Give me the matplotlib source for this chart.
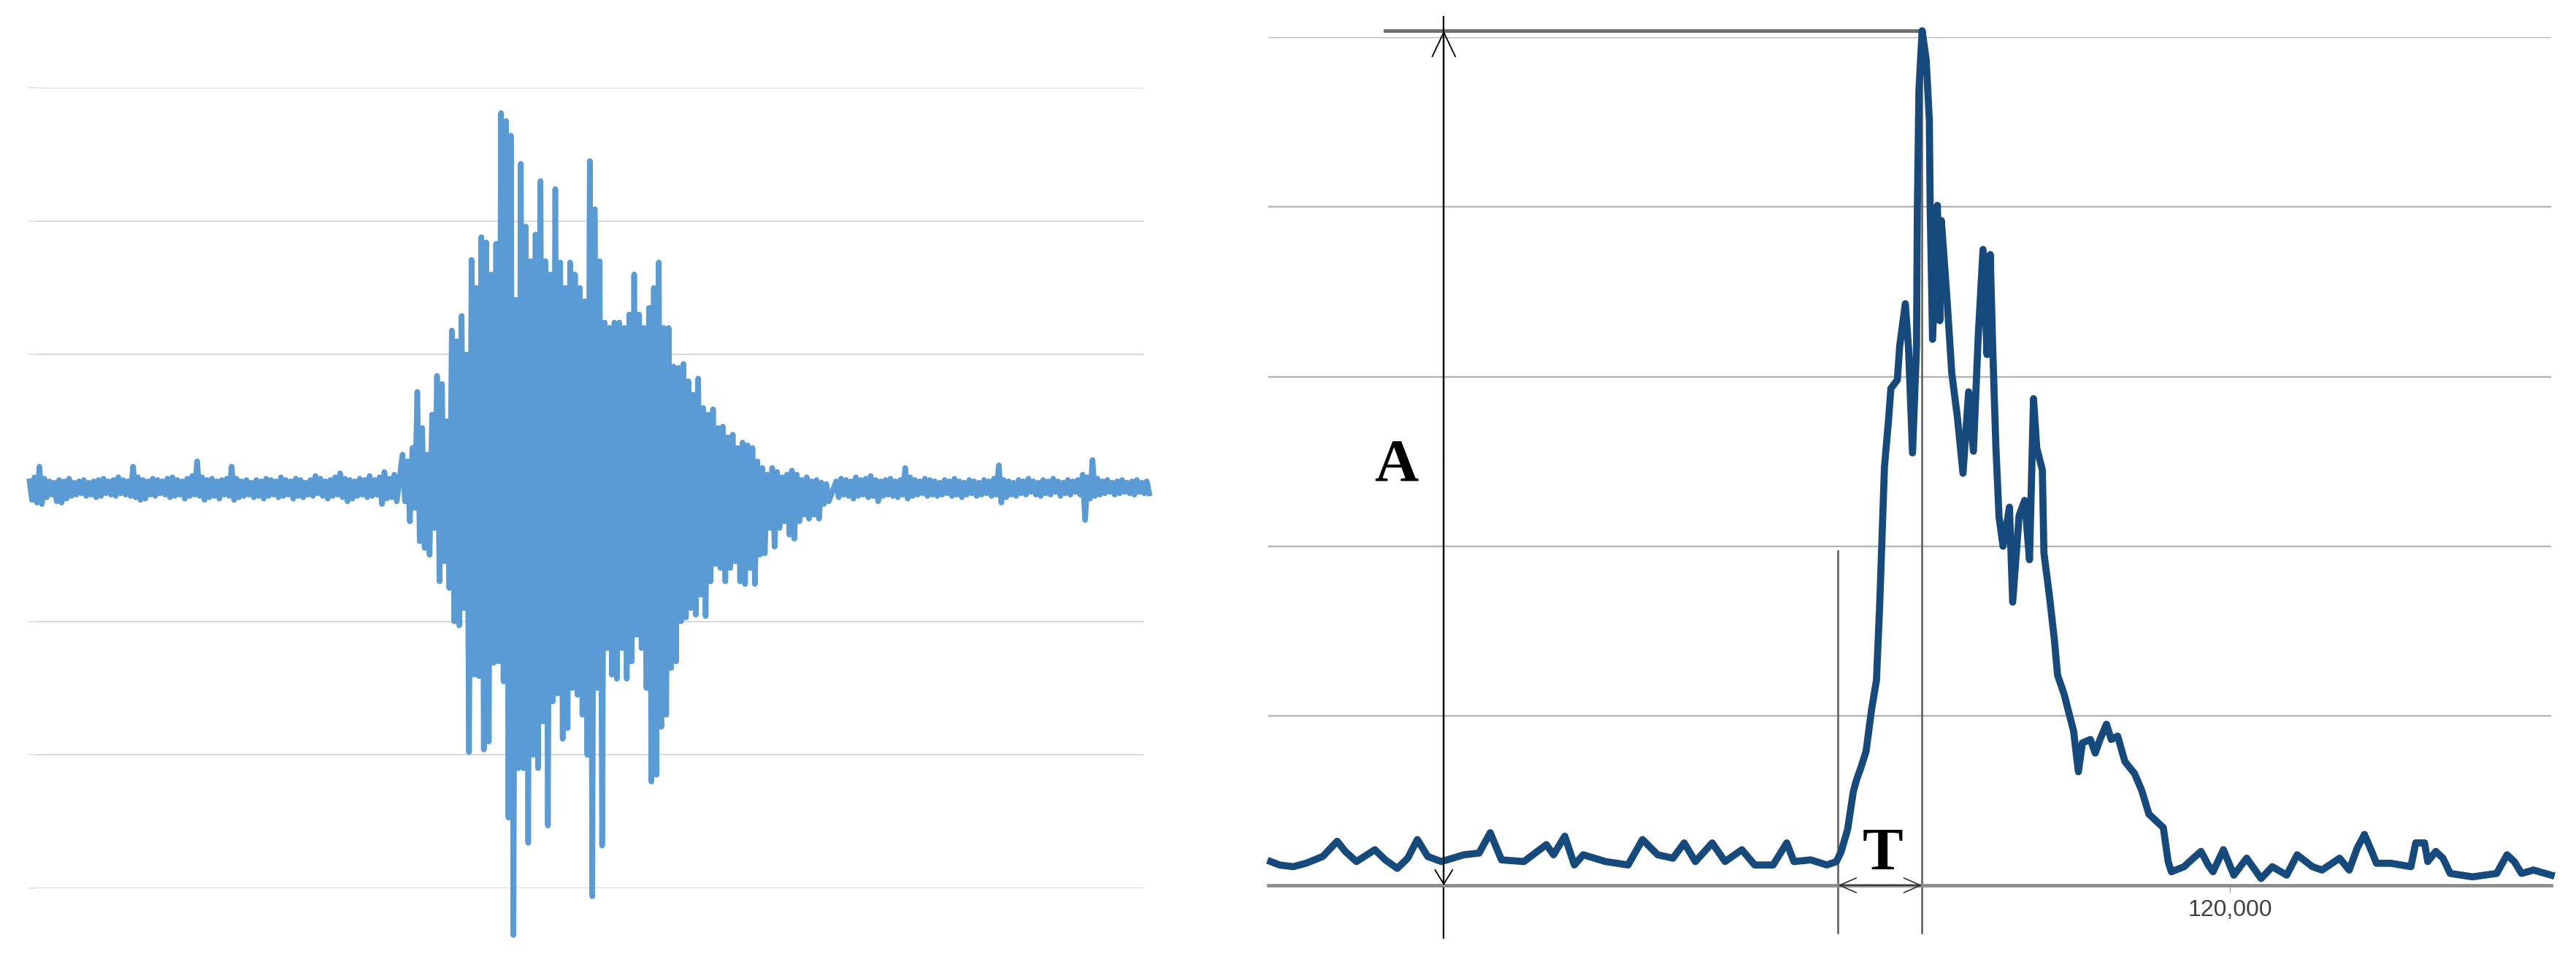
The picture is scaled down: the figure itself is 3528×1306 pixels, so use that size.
import numpy as np
import matplotlib.pyplot as plt

plt.rcParams["font.family"] = ["Liberation Sans", "DejaVu Sans"]

# ---- left panel: raw trace, read as (upper swing, lower swing) per step ----
pre_hi = [0.05, 0.08, 0.16, 0.07, 0.05, 0.04, 0.06, 0.05, 0.07, 0.04,
          0.05, 0.06, 0.04, 0.05, 0.06, 0.07, 0.05, 0.06, 0.08, 0.06,
          0.05, 0.16, 0.08, 0.06, 0.05, 0.07, 0.06, 0.05, 0.07, 0.08,
          0.06, 0.05, 0.07, 0.09, 0.20, 0.08, 0.06, 0.07, 0.05, 0.06,
          0.07, 0.16, 0.07, 0.05, 0.06, 0.04, 0.06, 0.05, 0.07, 0.06,
          0.05, 0.08, 0.06, 0.05, 0.07, 0.06, 0.04, 0.06, 0.09, 0.07,
          0.05, 0.06, 0.08, 0.11, 0.07, 0.06, 0.05, 0.07, 0.06, 0.09,
          0.06, 0.08, 0.12, 0.07, 0.10]
pre_lo = [-0.09, -0.11, -0.12, -0.07, -0.05, -0.10, -0.11, -0.08, -0.06, -0.05,
          -0.04, -0.06, -0.05, -0.07, -0.06, -0.04, -0.05, -0.06, -0.04, -0.05,
          -0.06, -0.07, -0.09, -0.08, -0.05, -0.06, -0.04, -0.05, -0.07, -0.06,
          -0.05, -0.08, -0.06, -0.05, -0.06, -0.09, -0.07, -0.06, -0.08, -0.05,
          -0.06, -0.09, -0.07, -0.06, -0.05, -0.07, -0.06, -0.08, -0.06, -0.05,
          -0.07, -0.06, -0.05, -0.08, -0.06, -0.07, -0.05, -0.06, -0.04, -0.06,
          -0.08, -0.06, -0.05, -0.07, -0.10, -0.08, -0.06, -0.05, -0.07, -0.06,
          -0.05, -0.12, -0.08, -0.07, -0.10]

burst_hi = [0.25, 0.2, 0.3, 0.72, 0.45, 0.25, 0.55, 0.84, 0.78, 0.5,
            1.18, 1.1, 1.29, 1.0, 1.71, 1.5, 1.88, 1.84, 1.6, 1.83,
            2.81, 2.75, 2.64, 1.41, 2.43, 1.96, 1.7, 1.9, 2.3, 1.7,
            1.6, 2.24, 1.69, 1.5, 1.69, 1.6, 1.5, 1.4, 2.45, 2.09,
            1.7, 1.24, 1.2, 1.24, 1.24, 1.2, 1.3, 1.6, 1.3, 1.2,
            1.35, 1.5, 1.69, 1.2, 1.2, 0.91, 0.9, 0.93, 0.8, 0.7,
            0.82, 0.6, 0.55, 0.59, 0.45, 0.46, 0.38, 0.4, 0.3, 0.34,
            0.32, 0.3, 0.2, 0.15, 0.1, 0.15, 0.12, 0.08, 0.1, 0.13,
            0.1, 0.06, 0.08, 0.05, 0.06, 0.04, 0.03]
burst_lo = [-0.1, -0.25, -0.15, -0.4, -0.45, -0.5, -0.3, -0.7, -0.55, -0.75,
            -1.0, -1.03, -0.9, -1.98, -1.4, -1.41, -1.96, -1.9, -1.31, -1.3,
            -1.45, -2.47, -3.35, -2.1, -2.1, -2.66, -2.0, -2.1, -1.75, -2.53,
            -1.6, -1.54, -1.88, -1.8, -1.5, -1.55, -1.7, -2.0, -3.06, -1.5,
            -2.68, -1.2, -1.4, -1.43, -1.2, -1.43, -1.3, -1.1, -1.2, -1.5,
            -2.2, -2.15, -1.79, -1.7, -1.35, -1.3, -1.0, -0.97, -0.9, -0.95,
            -0.8, -0.96, -0.7, -0.57, -0.6, -0.7, -0.6, -0.55, -0.7, -0.72,
            -0.6, -0.72, -0.5, -0.49, -0.3, -0.44, -0.3, -0.25, -0.35, -0.38,
            -0.25, -0.2, -0.23, -0.2, -0.23, -0.12, -0.1]

post_hi = [0.05, 0.07, 0.06, 0.05, 0.08, 0.06, 0.07, 0.09, 0.06, 0.05,
           0.06, 0.07, 0.05, 0.06, 0.15, 0.08, 0.06, 0.05, 0.07, 0.06,
           0.05, 0.04, 0.06, 0.05, 0.07, 0.05, 0.04, 0.06, 0.05, 0.04,
           0.06, 0.05, 0.07, 0.17, 0.06, 0.05, 0.04, 0.06, 0.05, 0.07,
           0.05, 0.04, 0.06, 0.05, 0.07, 0.05, 0.04, 0.06, 0.05, 0.06,
           0.10, 0.08, 0.21, 0.07, 0.05, 0.06, 0.04, 0.05, 0.06, 0.04,
           0.05, 0.06, 0.04, 0.05]
post_lo = [-0.07, -0.05, -0.06, -0.08, -0.06, -0.05, -0.07, -0.06, -0.10, -0.06,
           -0.05, -0.06, -0.07, -0.05, -0.08, -0.06, -0.05, -0.04, -0.06, -0.05,
           -0.06, -0.05, -0.04, -0.06, -0.05, -0.07, -0.05, -0.04, -0.06, -0.05,
           -0.04, -0.06, -0.05, -0.11, -0.07, -0.05, -0.06, -0.04, -0.05, -0.03,
           -0.05, -0.06, -0.04, -0.05, -0.03, -0.06, -0.04, -0.05, -0.03, -0.05,
           -0.24, -0.08, -0.06, -0.05, -0.04, -0.03, -0.05, -0.04, -0.03, -0.04,
           -0.05, -0.03, -0.04, -0.04]

# ---- right panel: envelope, time in thousands of samples ----
env_t = [0.3, 1.4, 3.1, 4.7, 6.8, 8.6, 9.6, 11.0, 13.3, 14.6,
         16.1, 17.4, 18.6, 19.9, 21.6, 24.4, 26.3, 27.7, 29.1, 31.9,
         34.7, 35.6, 37.0, 38.2, 39.3, 42.1, 44.9, 46.7, 48.6, 50.5,
         51.9, 53.3, 55.4, 57.0, 59.1, 60.7, 63.0, 64.7, 65.6, 67.7,
         69.7, 70.9, 71.5, 72.3, 73.0, 73.4, 74.0, 74.6, 75.3, 75.9,
         76.3, 76.9, 77.4, 77.7, 78.5, 78.8, 79.5, 79.9, 80.4, 80.9,
         81.0, 81.2, 81.6, 82.1, 82.5, 82.6, 82.9, 83.5, 83.8, 84.0,
         84.7, 85.3, 86.0, 86.7, 87.4, 88.0, 88.6, 89.2, 89.7, 90.1,
         90.4, 90.8, 91.2, 91.7, 92.5, 92.9, 93.7, 94.4, 95.0, 95.5,
         95.9, 96.6, 96.8, 97.5, 98.1, 98.5, 99.3, 99.9, 100.5, 101.1,
         101.6, 102.6, 103.2, 103.8, 104.6, 105.2, 106.0, 106.9, 108.1, 109.0,
         109.9, 110.8, 111.7, 112.3, 112.7, 114.3, 115.2, 116.4, 117.3, 117.9,
         119.2, 120.5, 122.1, 123.9, 125.3, 127.1, 128.4, 130.3, 131.5, 133.7,
         134.9, 135.9, 136.8, 137.7, 138.3, 140.1, 142.6, 143.2, 144.3, 144.7,
         145.7, 146.6, 147.5, 150.3, 153.3, 154.6, 155.5, 156.4, 157.9, 160.1]
env_v = [0.14, 0.12, 0.11, 0.13, 0.17, 0.26, 0.20, 0.14, 0.21, 0.15,
         0.10, 0.16, 0.27, 0.17, 0.14, 0.18, 0.19, 0.31, 0.15, 0.14,
         0.24, 0.18, 0.29, 0.12, 0.18, 0.14, 0.12, 0.27, 0.18, 0.16,
         0.25, 0.14, 0.25, 0.14, 0.21, 0.12, 0.12, 0.25, 0.14, 0.15,
         0.12, 0.14, 0.20, 0.33, 0.55, 0.62, 0.70, 0.79, 1.04, 1.21,
         1.65, 2.47, 2.74, 2.93, 2.98, 3.18, 3.43, 3.17, 2.55, 3.18,
         3.97, 4.69, 5.04, 4.87, 4.51, 4.01, 3.22, 4.01, 3.33, 3.92,
         3.46, 3.02, 2.76, 2.43, 2.91, 2.56, 3.24, 3.75, 3.13, 3.72,
         3.18, 2.59, 2.17, 2.00, 2.23, 1.67, 2.18, 2.27, 1.92, 2.87,
         2.58, 2.45, 1.96, 1.70, 1.45, 1.24, 1.13, 1.02, 0.91, 0.67,
         0.84, 0.86, 0.78, 0.86, 0.95, 0.86, 0.88, 0.73, 0.66, 0.56,
         0.42, 0.38, 0.34, 0.14, 0.08, 0.11, 0.15, 0.20, 0.12, 0.08,
         0.21, 0.06, 0.16, 0.04, 0.11, 0.06, 0.18, 0.11, 0.09, 0.16,
         0.09, 0.22, 0.30, 0.20, 0.13, 0.13, 0.11, 0.25, 0.25, 0.14,
         0.20, 0.16, 0.07, 0.05, 0.07, 0.18, 0.14, 0.07, 0.09, 0.06]
onset_t = 71.1
x_ticks = [120]


def zigzag(t0, step, hi, lo):
    t = t0 + step * np.arange(len(hi))
    x = np.column_stack([t, t + step / 2]).ravel()
    y = np.column_stack([hi, lo]).ravel()
    return x, y


segs = [zigzag(0, 3, pre_hi, pre_lo),
        zigzag(227, 3, burst_hi, burst_lo),
        zigzag(491, 3, post_hi, post_lo)]
raw_x = np.concatenate([s[0] for s in segs])
raw_y = np.concatenate([s[1] for s in segs])

fig = plt.figure(figsize=(35.28, 13.06), dpi=100)

# ---- left: seismogram ----
ax1 = fig.add_axes([0.01448, 0.0689, 0.4294, 0.8392])
ax1.plot(raw_x, raw_y, color="#5b9bd5", lw=5.5, clip_on=False, zorder=3)
ax1.set_xlim(4.7, 678)
ax1.set_ylim(-3, 3)
ax1.set_yticks(range(-3, 4))
ax1.set_xticks([])
ax1.grid(axis="y", color="#d9d9d9", lw=1.5)
ax1.set_axisbelow(True)
ax1.tick_params(axis="y", length=9, width=1.5, color="#e6e6e6", labelleft=False)
for s in ax1.spines.values():
    s.set_visible(False)

# ---- right: envelope with A / T annotation ----
ax2 = fig.add_axes([0.49235, 0.0720, 0.4980, 0.8887])
ax2.plot(env_t, env_v, color="#174a7c", lw=7, clip_on=False, zorder=3)
ax2.set_xlim(0, 160.1)
ax2.set_ylim(0, 5)
ax2.set_yticks(range(1, 6))
ax2.grid(axis="y", color="#b4b4b4", lw=1.7)
ax2.set_axisbelow(True)
ax2.tick_params(axis="y", length=0, labelleft=False)
ax2.set_xticks(x_ticks)
ax2.set_xticklabels([f"{v * 1000:,.0f}" for v in x_ticks])
ax2.tick_params(axis="x", length=7, width=1, color="#a0a0a0", pad=7,
                labelsize=23, labelcolor="#404040")
for side in ["top", "left", "right"]:
    ax2.spines[side].set_visible(False)
ax2.spines["bottom"].set_color("#8c8c8c")
ax2.spines["bottom"].set_linewidth(3.4)

i_pk = int(np.argmax(env_v))
peak_t, peak_v = env_t[i_pk], env_v[i_pk]
a_x = 21.9

# amplitude A
ax2.plot([14.6, peak_t], [peak_v, peak_v], color="#6e6e6e", lw=3.5,
         clip_on=False, zorder=2)
ax2.plot([a_x, a_x], [5.12, -0.31], color="black", lw=1.6, clip_on=False)
ax2.annotate("", xy=(a_x, peak_v), xytext=(a_x, 2.5), annotation_clip=False,
             arrowprops=dict(arrowstyle="->,head_length=2.4,head_width=1.14",
                             color="black", lw=1.3, shrinkA=0, shrinkB=0))
ax2.annotate("", xy=(a_x, 0), xytext=(a_x, 2.5), annotation_clip=False,
             arrowprops=dict(arrowstyle="->,head_length=1.4,head_width=0.86",
                             color="black", lw=1.3, shrinkA=0, shrinkB=0))
ax2.text(15.95, 2.387, "A", family=["Liberation Serif"], fontweight="bold",
         fontsize=60, ha="center", va="baseline")

# rise time T
ax2.plot([onset_t, onset_t], [1.975, -0.28], color="#5a5a5a", lw=1.8,
         clip_on=False)
ax2.plot([peak_t, peak_t], [peak_v, -0.28], color="#5a5a5a", lw=1.8,
         clip_on=False, zorder=2)
mid_t = (onset_t + peak_t) / 2
for end in (onset_t, peak_t):
    ax2.annotate("", xy=(end, 0), xytext=(mid_t, 0), annotation_clip=False,
                 arrowprops=dict(arrowstyle="->,head_length=1.65,head_width=0.72",
                                 color="#333333", lw=1.2, shrinkA=0, shrinkB=0))
ax2.text(76.7, 0.094, "T", family=["Liberation Serif"], fontweight="bold",
         fontsize=60, ha="center", va="baseline")

fig.savefig("out.png", dpi=100, facecolor="white")
